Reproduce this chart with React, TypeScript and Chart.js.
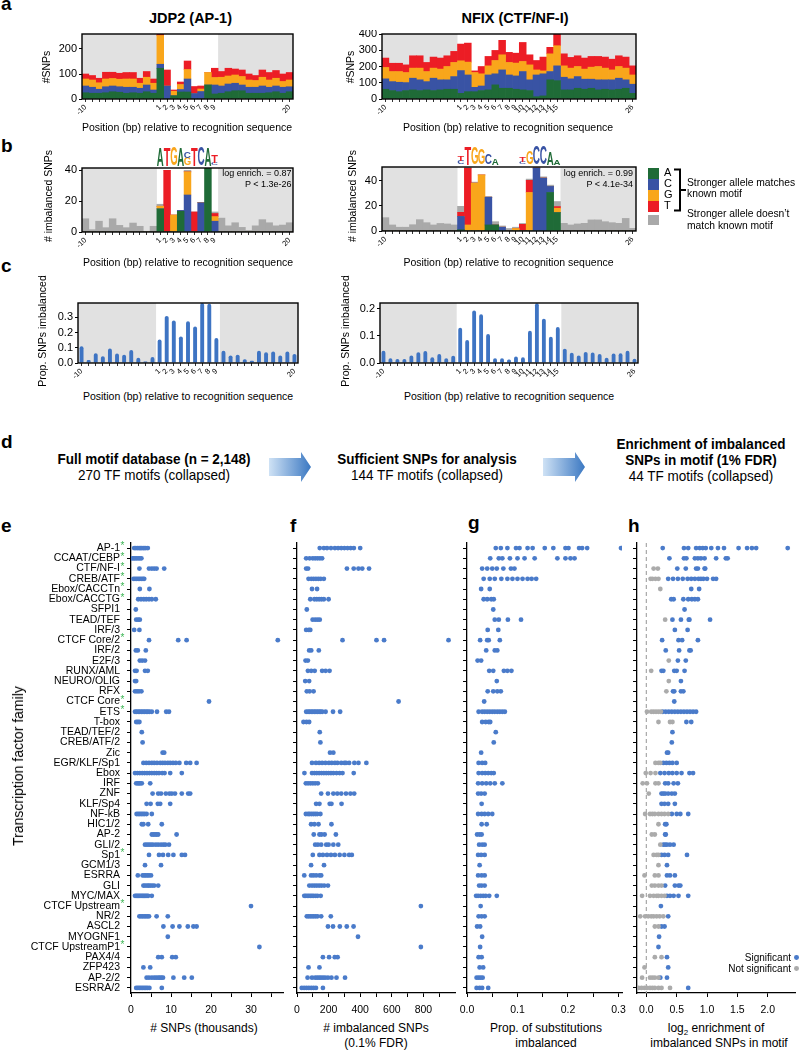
import React, { useEffect, useRef } from 'react';
import { Chart, registerables } from 'chart.js';

Chart.register(...registerables);

const FONT = "'Liberation Sans', Arial, Helvetica, sans-serif";
Chart.defaults.font.family = FONT;
Chart.defaults.color = '#000';

const GREEN = '#1f6b37';
const BLUE = '#3953a4';
const ORANGE = '#f9a61b';
const RED = '#ec1d25';
const GRAYBAR = '#a9a9a9';
const SHADE = '#e1e1e1';
const DOT = '#4a7bca';
const DOTGRAY = '#ababab';
const CBAR = '#3e74c3';
const STAR = '#3cb554';

// ---------------- panels a-c: positions ----------------
const jdp2Positions = ['-10','-9','-8','-7','-6','-5','-4','-3','-2','-1','0','1','2','3','4','5','6','7','8','9','10','11','12','13','14','15','16','17','18','19','20'];
const jdp2ShownTicks = ['-10','1','2','3','4','5','6','7','8','9','20'];
const jdp2MotifPositions = ['1','2','3','4','5','6','7','8','9'];

const nfixPositions = ['-10','-9','-8','-7','-6','-5','-4','-3','-2','-1','0','1','2','3','4','5','6','7','8','9','10','11','12','13','14','15','16','17','18','19','20','21','22','23','24','25','26'];
const nfixShownTicks = ['-10','1','2','3','4','5','6','7','8','9','10','11','12','13','14','15','26'];
const nfixMotifPositions = ['1','2','3','4','5','6','7','8','9','10','11','12','13','14','15'];

// panel a: #SNPs by nucleotide
const jdp2SnpsA = [25,23,23,25,29,27,23,25,23,29,23,123,0,13,28,28,0,0,56,20,23,29,33,33,23,23,23,25,29,23,29];
const jdp2SnpsC = [27,24,16,24,23,22,24,22,20,27,13,16,52,0,10,52,22,30,0,36,29,31,30,23,24,24,29,22,23,24,20];
const jdp2SnpsG = [28,29,26,31,30,30,33,33,20,31,27,115,0,18,20,38,0,10,50,30,35,32,33,34,29,27,35,29,31,23,27];
const jdp2SnpsT = [20,18,18,27,25,24,26,26,20,23,17,5,64,5,10,34,28,12,0,37,23,31,24,26,24,20,29,30,31,30,30];

const nfixSnpsA = [60,52,45,52,56,52,56,52,56,60,60,35,45,45,52,56,87,66,66,60,56,52,14,19,118,113,56,56,66,60,66,56,60,56,60,66,35];
const nfixSnpsC = [64,55,58,49,72,66,51,76,62,58,78,140,103,27,28,92,68,113,82,82,113,66,134,136,51,91,78,68,72,62,56,62,58,62,68,52,56];
const nfixSnpsG = [70,62,66,62,62,72,62,62,66,82,87,60,79,91,75,56,82,93,77,79,62,92,31,18,109,124,70,66,62,62,74,82,72,61,72,72,57];
const nfixSnpsT = [58,51,51,47,76,76,56,68,68,66,68,103,117,10,45,58,62,89,62,61,117,62,58,85,40,72,74,66,66,68,66,62,68,66,66,68,56];

// panel b: # imbalanced SNPs (stronger allele)
const jdp2ImbA = [0,0,0,0,0,0,0,0,0,0,0,15,0,0,13.4,0,0,0,42,0,0,0,0,0,0,0,0,0,0,0,0];
const jdp2ImbC = [0,0,0,0,0,0,0,0,0,0,0,0,0,0,0.6,24,0,19,0,7,0,0,0,0,0,0,0,0,0,0,0];
const jdp2ImbG = [0,0,0,0,0,0,0,0,0,0,0,1.7,0,11,0,15,0,0,0,3,0,0,0,0,0,0,0,0,0,0,0];
const jdp2ImbT = [0,0,0,0,0,0,0,0,0,0,0,0,40,0,0,0,13,0,0,2,0,0,0,0,0,0,0,0,0,0,0];
const jdp2ImbOther = [8.6,1.5,7,2.8,8.6,4.3,2.8,5.8,3.7,0,3.7,1.3,0,0,0,1,0,0,0,1,9,4,6,3,1,4,8,6,4,4.5,6];

const nfixImbA = [0,0,0,0,0,0,0,0,0,0,0,1,0,0,0,4.8,4.8,0,0,0,0,0,0,0,30.6,14.6,0,0,0,0,0,0,0,0,0,0,0];
const nfixImbC = [0,0,0,0,0,0,0,0,0,0,0,10.6,0,0,0,22,0,3,0,0,0,0,50,42,4.8,0,0,0,0,0,0,0,0,0,0,0,0];
const nfixImbG = [0,0,0,0,0,0,0,0,0,0,0,0,4.8,38,44.5,0,0,0,0,2,0,30.6,0,0,0,3.5,0,0,0,0,0,0,0,0,0,0,0];
const nfixImbT = [0,0,0,0,0,0,0,0,0,0,0,3.2,45,0,0,0,0,0,0,0,5.3,9.6,0,0,0,1.3,0,0,0,0,0,0,0,0,0,0,0];
const nfixImbOther = [10.6,4.8,3,3,5,9,6.6,4.8,6,5.6,4.8,4.8,0.5,0.8,0,0.6,2.6,1,2,1,0.7,1,0,1,1,4,6.1,4.8,5.6,6.1,8.8,8.8,7.4,6.6,6.1,10,2.1];

// panel c: proportion imbalanced
const jdp2Prop = [0.11,0.02,0.065,0.045,0.095,0.062,0.055,0.085,0.035,0.01,0.04,0.155,0.31,0.28,0.175,0.275,0.24,0.395,0.39,0.165,0.08,0.05,0.055,0.025,0.015,0.08,0.07,0.075,0.05,0.075,0.06];
const nfixProp = [0.045,0.018,0.015,0.015,0.028,0.04,0.044,0.021,0.033,0.018,0.027,0.13,0.085,0.194,0.18,0.107,0.018,0.018,0.013,0.024,0.021,0.119,0.221,0.164,0.097,0.133,0.053,0.038,0.028,0.041,0.039,0.033,0.019,0.035,0.036,0.045,0.016];

// motif logos (bottom -> top, height as fraction of full letter)
const jdp2Logo: [string, number][][] = [
  [['A', 1]], [['T', 1]], [['G', 1]], [['A', 1]], [['G', 0.42], ['C', 0.38]],
  [['T', 1]], [['C', 1]], [['A', 1]], [['C', 0.12], ['T', 0.4]],
];
const nfixLogo: [string, number][][] = [
  [['C', 0.18], ['T', 0.25]], [['T', 1]], [['G', 0.95]], [['G', 0.88]], [['C', 0.6]],
  [['A', 0.32]], [], [], [], [['C', 0.12], ['T', 0.3]],
  [['G', 0.75]], [['C', 1]], [['C', 1]], [['A', 0.72]], [['A', 0.3]],
];

// ---------------- panels e-h ----------------
const families = ['AP-1','CCAAT/CEBP','CTF/NF-I','CREB/ATF','Ebox/CACCTn','Ebox/CACCTG','SFPI1','TEAD/TEF','IRF/3','CTCF Core/2','IRF/2','E2F/3','RUNX/AML','NEURO/OLIG','RFX','CTCF Core','ETS','T-box','TEAD/TEF/2','CREB/ATF/2','Zic','EGR/KLF/Sp1','Ebox','IRF','ZNF','KLF/Sp4','NF-kB','HIC1/2','AP-2','GLI/2','Sp1','GCM1/3','ESRRA','GLI','MYC/MAX','CTCF Upstream','NR/2','ASCL2','MYOGNF1','CTCF UpstreamP1','PAX4/4','ZFP423','AP-2/2','ESRRA/2'];
const starredFamilies = ['AP-1','CCAAT/CEBP','CTF/NF-I','CREB/ATF','Ebox/CACCTn','Ebox/CACCTG','CTCF Core/2','CTCF Core','ETS','Sp1','CTCF Upstream','CTCF UpstreamP1'];

const snpsThousands: number[][] = [
  [0.8,1.2,1.6,2.0,2.3,2.6,3.0,3.3,3.7,4.2],
  [0.3,0.7,1.0,1.4,1.8,2.2,2.6],
  [2.1,4.5,5.2,5.8,6.4,8.3],
  [0.6,1.0,1.4,1.8,2.2,2.6,3.0,3.3],
  [2.2,4.6],
  [1.8,2.5,3.2,3.8,4.5,5.2,6.2],
  [1.2],
  [1.3,1.8,2.2],
  [0.8,2.1],
  [4.5,11.8,13.9,36.7],
  [1.2,1.7,3.7],
  [2.2,2.8,3.5],
  [1.0,1.4,3.5,4.2],
  [1.0,1.3],
  [1.0,1.5,2.0,2.6],
  [19.5],
  [1,1.4,1.8,2.2,2.6,3,3.4,3.8,4.2,4.6,5.2,6.5,8.8,9.5],
  [1.3,1.7,2.1],
  [2.7],
  [2.9],
  [7.9,8.3],
  [3.1,3.8,4.5,5.2,5.8,6.5,7.3,7.9,8.5,9.2,9.8,10.5,11.2,12.1,13.8,14.8,16.4],
  [1,1.6,2.2,2.8,3.4,4,4.6,5.2,5.8,6.4,7,7.8,8.4,9.8,12.7],
  [1.3,1.7,2.0,2.3,2.7,4.8],
  [5.4,6.8,7.5,8.7,9.6,10.2,11,12.7,14.3,14.8],
  [3.9,4.9,6.7,7.3,9.8],
  [1.4,1.8,2.2,2.6,3.0,3.4,3.9,5.2],
  [2.7,3.1,4.3,7.7],
  [5.2,5.6,6.0,6.4,6.8,11.4],
  [3.5,4,4.5,5,5.5,6.2,6.8,7.5,8.1,8.6,9.5],
  [4.5,7,8,9.3,10.6,12.7,13.5],
  [3.5,7.5],
  [1.7,2.9,3.3,3.7,4.1,4.5,5],
  [3.1,3.5,4,4.4,4.8,5.3,5.8,6.8],
  [1,1.3,1.6,1.9,2.2,2.5,2.8,3.1,3.4,3.7,4,4.3,5.2],
  [30],
  [2.1,2.5,2.9,3.3,3.7,4.1,4.5,6.4,9.2],
  [8.1,10.4,12.1,14.2,15.6,16.4],
  [9.2],
  [32.1],
  [6.8,7.7,10.3,11.2],
  [3.1,4.8],
  [3.9,4.5,5.2,5.8,6.3,6.8,7.2,7.6,8,10.6,13.3,15.2],
  [1.3,1.7,2.1,2.5,2.9,3.3,3.7,4.1,4.6,7.7],
];

const imbalancedCounts: number[][] = [
  [144,170,190,215,240,260,280,300,320,340,360,400],
  [58,80,100,115,130,145,159],
  [58,70,316,359,389,413,456],
  [73,90,105,120,135,150,170],
  [95,127],
  [84,110,125,140,155,170,200],
  [62],
  [99,115,130,144],
  [58,75,84],
  [288,503,551,959],
  [77,90,138],
  [54,69],
  [69,90,112,159,181,206],
  [52,77],
  [62,80,105],
  [643],
  [58,70,80,90,100,110,120,130,140,150,160,181,228,273],
  [41,60,77],
  [144],
  [148],
  [209,230],
  [95,120,140,159,180,202,220,240,256,280,300,310,330,363,389,439],
  [47,95,110,125,140,155,170,185,200,215,230,250,270,288,359],
  [56,70,85,100,115,132],
  [153,196,230,255,280,310,338,362],
  [121,142,207,218,282],
  [56,70,80,92,104,116,128,148],
  [89,110,136,218],
  [106,142,155,175,246],
  [115,132,153,185,200,230,261],
  [100,142,164,190,215,240,270,300,330,347],
  [89,171],
  [46,89,104,121,142,153],
  [78,95,110,125,140,155,172,196],
  [46,55,65,75,85,95,105,118,130,150],
  [784],
  [62,73,84,95,106,118,130,153,214],
  [196,228,271,315,358],
  [386],
  [784],
  [164,203,239,257],
  [73,142],
  [67,95,115,128,140,152,165,178,196,218,250,304],
  [30,45,60,75,90,105,120,164],
];

const propImbalanced: number[][] = [
  [0.057,0.067,0.08,0.097,0.104,0.12,0.13,0.154,0.171,0.195,0.201,0.222,0.228,0.238,0.305],
  [0.046,0.063,0.07,0.085,0.1,0.114,0.134,0.179,0.195,0.205,0.213],
  [0.03,0.04,0.05,0.059,0.072,0.087,0.094],
  [0.033,0.045,0.055,0.068,0.08,0.09,0.1,0.11,0.12,0.128,0.137],
  [0.028,0.045],
  [0.033,0.04,0.048,0.053],
  [0.052],
  [0.055,0.063,0.081,0.107],
  [0.041,0.062],
  [0.026,0.04,0.043,0.065],
  [0.038,0.055,0.06],
  [0.021,0.028],
  [0.044,0.052,0.073,0.08,0.088],
  [0.059],
  [0.041,0.052,0.06,0.067],
  [0.034],
  [0.023,0.03,0.035,0.04,0.045,0.05,0.055,0.06,0.065,0.07,0.075],
  [0.03,0.037,0.043,0.046],
  [0.057],
  [0.053],
  [0.028],
  [0.023,0.03,0.036],
  [0.023,0.03,0.036,0.042,0.048,0.053],
  [0.022,0.03,0.038,0.046,0.055,0.07],
  [0.022,0.028,0.035],
  [0.029],
  [0.022,0.029,0.035,0.042,0.05],
  [0.029,0.039],
  [0.02,0.025,0.029],
  [0.024,0.03,0.035],
  [0.022,0.028,0.035],
  [0.025],
  [0.022,0.029,0.035],
  [0.024,0.029,0.035],
  [0.018,0.022,0.027,0.032,0.037,0.044,0.059],
  [0.027],
  [0.023,0.029,0.035],
  [0.02,0.026],
  [0.03],
  [0.026],
  [0.023,0.029],
  [0.025,0.032],
  [0.019,0.023,0.027,0.031],
  [0.019,0.025,0.03,0.042],
];

const log2EnrichSignificant: number[][] = [
  [0.27,0.62,0.69,0.82,0.88,0.93,0.98,1.07,1.18,1.28,1.52,1.66,1.74,1.81,2.33],
  [0.38,0.62,0.66,0.8,0.85,0.9,0.96,1.15,1.31,1.34],
  [0.51,0.65,0.82,0.85,0.96,0.97],
  [0.36,0.44,0.52,0.6,0.68,0.74,0.8,0.86,0.9,0.94,1.0,1.1,1.15],
  [0.74,0.87],
  [0.41,0.45,0.61,0.69,0.75,0.8,0.85],
  [0.63],
  [0.43,0.57,0.7,0.71,1.05],
  [0.47,0.68],
  [0.26,0.53,0.59,0.85],
  [0.32,0.54,0.71,0.73],
  [0.52,0.65],
  [0.25,0.28,0.46,0.5,0.63],
  [0.57],
  [0.44,0.46,0.57,0.61],
  [0.46],
  [0.27,0.32,0.37,0.42,0.47,0.52,0.57,0.62,0.67,0.72,0.77,0.82],
  [0.66,0.74],
  [0.43],
  [0.42],
  [0.34,0.36],
  [0.28,0.33,0.38,0.43,0.5],
  [0.23,0.3,0.37,0.43,0.5,0.58,0.71,0.77],
  [0.31,0.36,0.45,0.52],
  [0.25,0.28,0.31,0.36,0.42,0.47],
  [0.25,0.3,0.36,0.47],
  [0.42,0.5,0.56,0.69],
  [0.31,0.33],
  [0.31,0.32],
  [0.28,0.31,0.34,0.39,0.45],
  [0.25,0.3,0.36,0.67],
  [0.34],
  [0.34,0.39,0.47],
  [0.31,0.47,0.53,0.56],
  [0.34,0.39,0.45,0.53,0.69],
  [0.24],
  [0.36],
  [0.25,0.3],
  [0.21],
  [0.2],
  [0.34],
  [0.36],
  [0.23,0.34],
  [0.69],
];

const log2EnrichNotSignificant: number[][] = [
  [], [], [0.12,0.19], [0.07,0.1,0.15,0.2], [0.23], [], [], [0.31], [], [],
  [], [0.37], [0.08], [0.37], [0.33], [], [0.01,0.08,0.12,0.16,0.2,0.24], [0.2,0.39,0.43], [], [],
  [], [0.15,0.2,0.23], [-0.01,0.07,0.15], [-0.06,0.01,0.15,0.2], [0.04], [], [-0.02,0.06,0.1,0.14,0.2,0.25,0.3,0.36], [0.2], [0.09,0.14], [0.23],
  [0.12,0.17,0.2], [0.2], [-0.03,0.14,0.2], [0.09,0.14,0.2,0.25], [-0.07,0.06,0.12,0.17,0.2,0.25,0.3], [], [-0.1,-0.02,0.03,0.08,0.12,0.17,0.22,0.28], [0.14,0.2], [], [],
  [0.14,0.25], [-0.03], [-0.07,0.06,0.1,0.14,0.2], [-0.13,-0.08,-0.03,0.01,0.06,0.1,0.14,0.2,0.25,0.39],
];

// ---------------- helpers ----------------
type Box = { L: number; T: number; R: number; B: number; yw: number; xh: number; pt: number; pr: number };

const fixY = (w: number) => (s: any) => { s.width = w; s.paddingTop = 0; s.paddingBottom = 0; s.paddingLeft = 0; s.paddingRight = 0; };
const fixX = (h: number) => (s: any) => { s.height = h; s.paddingLeft = 0; s.paddingRight = 0; s.paddingTop = 0; s.paddingBottom = 0; };

function ChartBox({ box, make }: { box: Box; make: () => any }) {
  const ref = useRef<HTMLCanvasElement | null>(null);
  const left = box.L - box.yw;
  const top = box.T - box.pt;
  const width = box.R - box.L + box.yw + box.pr;
  const height = box.B - box.T + box.pt + box.xh;
  useEffect(() => {
    const cfg = make();
    cfg.options.layout = { padding: { left: 0, top: box.pt, right: box.pr, bottom: 0 } };
    const chart = new Chart(ref.current as HTMLCanvasElement, cfg);
    return () => chart.destroy();
  }, []);
  return <canvas ref={ref} width={width} height={height} style={{ position: 'absolute', left, top, width, height }} />;
}

const LETTER_COLOR: Record<string, string> = { A: GREEN, C: BLUE, G: ORANGE, T: RED };

function drawLetter(ctx: CanvasRenderingContext2D, ch: string, x0: number, w: number, yBottom: number, h: number) {
  if (h <= 0.5) return;
  ctx.save();
  ctx.font = `bold 100px ${FONT}`;
  const m = ctx.measureText(ch);
  const gw = m.actualBoundingBoxLeft + m.actualBoundingBoxRight;
  const gh = m.actualBoundingBoxAscent + m.actualBoundingBoxDescent;
  if (gw > 0 && gh > 0) {
    ctx.translate(x0, yBottom);
    ctx.scale(w / gw, h / gh);
    ctx.fillStyle = LETTER_COLOR[ch];
    ctx.textBaseline = 'alphabetic';
    ctx.textAlign = 'left';
    ctx.fillText(ch, m.actualBoundingBoxLeft, -m.actualBoundingBoxDescent);
  }
  ctx.restore();
}

function framePlugin(motif0: number, motif1: number) {
  return {
    id: 'frame',
    beforeDraw(chart: any) {
      const { ctx, chartArea: a, scales } = chart;
      const x = scales.x;
      const half = (x.getPixelForValue(1) - x.getPixelForValue(0)) / 2;
      const mL = x.getPixelForValue(motif0) - half;
      const mR = x.getPixelForValue(motif1) + half;
      ctx.save();
      ctx.fillStyle = SHADE;
      ctx.fillRect(a.left, a.top, mL - a.left, a.bottom - a.top);
      ctx.fillRect(mR, a.top, a.right - mR, a.bottom - a.top);
      ctx.restore();
    },
    afterDatasetsDraw(chart: any) {
      const { ctx, chartArea: a } = chart;
      ctx.save();
      ctx.strokeStyle = '#000';
      ctx.lineWidth = 1.4;
      ctx.strokeRect(a.left, a.top, a.right - a.left, a.bottom - a.top);
      ctx.restore();
    },
  };
}

function logoPlugin(logo: [string, number][][], firstIndex: number) {
  return {
    id: 'logo',
    afterDraw(chart: any) {
      const { ctx, chartArea: a, scales } = chart;
      const x = scales.x;
      const step = x.getPixelForValue(1) - x.getPixelForValue(0);
      const full = 18;
      logo.forEach((stack, k) => {
        const cx = x.getPixelForValue(firstIndex + k);
        let yb = a.top - 2.5;
        stack.forEach(([ch, h]) => {
          const hh = h * full;
          drawLetter(ctx, ch, cx - step * 0.48, step * 0.96, yb, hh);
          yb -= hh;
        });
      });
    },
  };
}

type BarSpec = {
  labels: string[];
  shown: string[];
  motif: string[];
  series: { data: number[]; color: string }[];
  yMax: number;
  yTicks: number[];
  yDigits: number;
  box: Box;
  barPct: number;
  radius?: number;
  logo?: [string, number][][];
};

function barConfig(spec: BarSpec) {
  const m0 = spec.labels.indexOf(spec.motif[0]);
  const m1 = spec.labels.indexOf(spec.motif[spec.motif.length - 1]);
  const plugins: any[] = [framePlugin(m0, m1)];
  if (spec.logo) plugins.push(logoPlugin(spec.logo, m0));
  return {
    type: 'bar',
    data: {
      labels: spec.labels,
      datasets: spec.series.map((s) => ({
        data: s.data,
        backgroundColor: s.color,
        borderWidth: 0,
        barPercentage: spec.barPct,
        categoryPercentage: 1,
        borderRadius: spec.radius || 0,
        borderSkipped: 'start',
        stack: 'one',
      })),
    },
    options: {
      animation: false,
      responsive: false,
      devicePixelRatio: 1,
      events: [],
      plugins: { legend: { display: false }, tooltip: { enabled: false } },
      scales: {
        x: {
          stacked: true,
          grid: { offset: false, drawOnChartArea: false, drawTicks: true, tickLength: 3, color: '#000', lineWidth: 0.8 },
          border: { display: false },
          ticks: {
            autoSkip: false,
            maxRotation: 45,
            minRotation: 45,
            padding: 1,
            font: { size: 7.5 },
            callback: (_v: any, i: number) => (spec.shown.includes(spec.labels[i]) ? spec.labels[i] : ''),
          },
          afterFit: fixX(spec.box.xh),
        },
        y: {
          stacked: true,
          min: 0,
          max: spec.yMax,
          afterBuildTicks: (s: any) => { s.ticks = spec.yTicks.map((v) => ({ value: v })); },
          grid: { drawOnChartArea: false, drawTicks: true, tickLength: 3, color: '#000', lineWidth: 1 },
          border: { display: false },
          ticks: { padding: 2, font: { size: 11 }, callback: (v: any) => Number(v).toFixed(spec.yDigits) },
          afterFit: fixY(spec.box.yw),
        },
      },
    },
    plugins,
  };
}

type StripSpec = {
  sig: number[][];
  non?: number[][];
  xMin: number;
  xMax: number;
  xTicks: number[];
  xLabel: (v: number, i: number) => string;
  showY: boolean;
  box: Box;
  dashedZero?: boolean;
};

function toPoints(rows: number[][]) {
  const pts: { x: number; y: number }[] = [];
  rows.forEach((vals, i) => vals.forEach((v) => pts.push({ x: v, y: i })));
  return pts;
}

function stripConfig(spec: StripSpec) {
  const datasets: any[] = [];
  if (spec.non) datasets.push({ data: toPoints(spec.non), pointRadius: 2.4, pointBorderWidth: 0, pointBackgroundColor: DOTGRAY, backgroundColor: DOTGRAY });
  datasets.push({ data: toPoints(spec.sig), pointRadius: 2.4, pointBorderWidth: 0, pointBackgroundColor: DOT, backgroundColor: DOT });
  const plugins: any[] = [];
  if (spec.dashedZero) {
    plugins.push({
      id: 'zero',
      beforeDatasetsDraw(chart: any) {
        const { ctx, chartArea: a, scales } = chart;
        const x = scales.x.getPixelForValue(0);
        ctx.save();
        ctx.strokeStyle = '#a8a8a8';
        ctx.lineWidth = 1.2;
        ctx.setLineDash([4, 3]);
        ctx.beginPath();
        ctx.moveTo(x, a.top);
        ctx.lineTo(x, a.bottom);
        ctx.stroke();
        ctx.restore();
      },
    });
  }
  if (spec.showY) {
    plugins.push({
      id: 'stars',
      afterDraw(chart: any) {
        const { ctx, chartArea: a, scales } = chart;
        ctx.save();
        ctx.fillStyle = STAR;
        ctx.font = `10px ${FONT}`;
        ctx.textAlign = 'left';
        ctx.textBaseline = 'middle';
        families.forEach((f, i) => {
          if (starredFamilies.includes(f)) ctx.fillText('*', a.left - 10.5, scales.y.getPixelForValue(i) - 1.5);
        });
        ctx.restore();
      },
    });
  }
  return {
    type: 'scatter',
    data: { datasets },
    options: {
      animation: false,
      responsive: false,
      devicePixelRatio: 1,
      events: [],
      plugins: { legend: { display: false }, tooltip: { enabled: false } },
      scales: {
        x: {
          type: 'linear',
          min: spec.xMin,
          max: spec.xMax,
          afterBuildTicks: (s: any) => { s.ticks = spec.xTicks.map((v) => ({ value: v })); },
          grid: { drawOnChartArea: false, drawTicks: true, tickLength: 4, color: '#000', lineWidth: 1 },
          border: { display: true, color: '#000', width: 1.3 },
          ticks: { autoSkip: false, maxRotation: 0, padding: 7, font: { size: 10.5 }, callback: (v: any, i: number) => spec.xLabel(Number(v), i) },
          afterFit: fixX(spec.box.xh),
        },
        y: {
          type: 'linear',
          reverse: true,
          min: -0.5,
          max: families.length - 0.5,
          afterBuildTicks: (s: any) => { s.ticks = families.map((_f, i) => ({ value: i })); },
          grid: { drawOnChartArea: false, drawTicks: true, tickLength: 4, color: '#000', lineWidth: 1 },
          border: { display: true, color: '#000', width: 1.3 },
          ticks: { autoSkip: false, padding: 7, font: { size: 10.5 }, callback: (v: any) => (spec.showY ? families[Number(v)] : '') },
          afterFit: fixY(spec.box.yw),
        },
      },
    },
    plugins,
  };
}

function Txt({ x, y, s = 11, b = false, a = 'left', c = '#000', sx = 1, children }: any) {
  const tx = a === 'center' ? '-50%' : a === 'right' ? '-100%' : '0';
  return (
    <div
      style={{
        position: 'absolute',
        left: x,
        top: y - 0.8465 * s,
        fontSize: s,
        lineHeight: `${s}px`,
        fontWeight: b ? 'bold' : 'normal',
        color: c,
        whiteSpace: 'nowrap',
        transform: `translateX(${tx})${sx !== 1 ? ` scaleX(${sx})` : ''}`,
        transformOrigin: a === 'center' ? 'center' : a === 'right' ? 'right' : 'left',
      }}
    >
      {children}
    </div>
  );
}

function VTxt({ x, y, s = 10.5, children }: any) {
  return (
    <div style={{ position: 'absolute', left: x, top: y, fontSize: s, lineHeight: `${s}px`, whiteSpace: 'nowrap', transform: 'translate(-50%,-50%) rotate(-90deg)' }}>
      {children}
    </div>
  );
}

function Arrow({ x0, x1, cy }: { x0: number; x1: number; cy: number }) {
  const xb = x1 - 10;
  const bh = 9;
  const hh = 15;
  const id = `g${x0}`;
  return (
    <svg style={{ position: 'absolute', left: x0, top: cy - hh }} width={x1 - x0} height={hh * 2}>
      <defs>
        <linearGradient id={id} x1="0" y1="0" x2="1" y2="0">
          <stop offset="0" stopColor="#cfe2f5" />
          <stop offset="1" stopColor="#3b78c2" />
        </linearGradient>
      </defs>
      <path d={`M0 ${hh - bh} L${xb - x0} ${hh - bh} L${xb - x0} 0 L${x1 - x0} ${hh} L${xb - x0} ${hh * 2} L${xb - x0} ${hh + bh} L0 ${hh + bh} Z`} fill={`url(#${id})`} />
    </svg>
  );
}

// ---------------- boxes ----------------
const boxAJ: Box = { L: 82, T: 34, R: 293, B: 99, yw: 40, xh: 26, pt: 4, pr: 4 };
const boxAN: Box = { L: 382, T: 34, R: 636, B: 99, yw: 40, xh: 26, pt: 4, pr: 4 };
const boxBJ: Box = { L: 82, T: 168, R: 293, B: 232, yw: 40, xh: 26, pt: 24, pr: 4 };
const boxBN: Box = { L: 382, T: 167, R: 636, B: 231, yw: 40, xh: 26, pt: 24, pr: 4 };
const boxCJ: Box = { L: 78, T: 303, R: 298, B: 363, yw: 40, xh: 26, pt: 4, pr: 4 };
const boxCN: Box = { L: 380, T: 303, R: 638, B: 363, yw: 40, xh: 26, pt: 4, pr: 4 };
const boxE: Box = { L: 131, T: 543, R: 283, B: 993, yw: 131, xh: 24, pt: 4, pr: 4 };
const boxF: Box = { L: 297, T: 543, R: 455, B: 993, yw: 8, xh: 24, pt: 4, pr: 4 };
const boxG: Box = { L: 467, T: 543, R: 622, B: 993, yw: 8, xh: 24, pt: 4, pr: 4 };
const boxH: Box = { L: 637, T: 543, R: 799, B: 993, yw: 8, xh: 24, pt: 4, pr: 0 };

const nucSeries = (a: number[], c: number[], g: number[], t: number[]) => [
  { data: a, color: GREEN },
  { data: c, color: BLUE },
  { data: g, color: ORANGE },
  { data: t, color: RED },
];

export default function App() {
  return (
    <div style={{ position: 'absolute', left: 0, top: 0, width: 799, height: 1050, background: '#fff', fontFamily: FONT, color: '#000', overflow: 'hidden' }}>
      {/* panel a */}
      <ChartBox box={boxAJ} make={() => barConfig({ labels: jdp2Positions, shown: jdp2ShownTicks, motif: jdp2MotifPositions, series: nucSeries(jdp2SnpsA, jdp2SnpsC, jdp2SnpsG, jdp2SnpsT), yMax: 260, yTicks: [0, 50, 100, 150, 200, 250], yDigits: 0, box: boxAJ, barPct: 1 })} />
      <ChartBox box={boxAN} make={() => barConfig({ labels: nfixPositions, shown: nfixShownTicks, motif: nfixMotifPositions, series: nucSeries(nfixSnpsA, nfixSnpsC, nfixSnpsG, nfixSnpsT), yMax: 400, yTicks: [0, 100, 200, 300, 400], yDigits: 0, box: boxAN, barPct: 1 })} />
      {/* panel b */}
      <ChartBox box={boxBJ} make={() => barConfig({ labels: jdp2Positions, shown: jdp2ShownTicks, motif: jdp2MotifPositions, series: [...nucSeries(jdp2ImbA, jdp2ImbC, jdp2ImbG, jdp2ImbT), { data: jdp2ImbOther, color: GRAYBAR }], yMax: 41.5, yTicks: [0, 10, 20, 30, 40], yDigits: 0, box: boxBJ, barPct: 1, logo: jdp2Logo })} />
      <ChartBox box={boxBN} make={() => barConfig({ labels: nfixPositions, shown: nfixShownTicks, motif: nfixMotifPositions, series: [...nucSeries(nfixImbA, nfixImbC, nfixImbG, nfixImbT), { data: nfixImbOther, color: GRAYBAR }], yMax: 50.8, yTicks: [0, 10, 20, 30, 40, 50], yDigits: 0, box: boxBN, barPct: 1, logo: nfixLogo })} />
      {/* panel c */}
      <ChartBox box={boxCJ} make={() => barConfig({ labels: jdp2Positions, shown: jdp2ShownTicks, motif: jdp2MotifPositions, series: [{ data: jdp2Prop, color: CBAR }], yMax: 0.395, yTicks: [0, 0.1, 0.2, 0.3], yDigits: 1, box: boxCJ, barPct: 0.55, radius: 2 })} />
      <ChartBox box={boxCN} make={() => barConfig({ labels: nfixPositions, shown: nfixShownTicks, motif: nfixMotifPositions, series: [{ data: nfixProp, color: CBAR }], yMax: 0.222, yTicks: [0, 0.1, 0.2], yDigits: 1, box: boxCN, barPct: 0.55, radius: 2 })} />

      {/* panels e-h */}
      <ChartBox box={boxE} make={() => stripConfig({ sig: snpsThousands, xMin: 0, xMax: 38, xTicks: [0, 5, 10, 15, 20, 25, 30, 35], xLabel: (v) => (v % 10 === 0 ? String(v) : ''), showY: true, box: boxE })} />
      <ChartBox box={boxF} make={() => stripConfig({ sig: imbalancedCounts, xMin: 0, xMax: 1000, xTicks: [0, 100, 200, 300, 400, 500, 600, 700, 800, 900], xLabel: (v) => (v % 200 === 0 ? String(v) : ''), showY: false, box: boxF })} />
      <ChartBox box={boxG} make={() => stripConfig({ sig: propImbalanced, xMin: 0, xMax: 0.307, xTicks: [0, 0.05, 0.1, 0.15, 0.2, 0.25, 0.3], xLabel: (v, i) => (i % 2 === 0 ? v.toFixed(1) : ''), showY: false, box: boxG })} />
      <ChartBox box={boxH} make={() => stripConfig({ sig: log2EnrichSignificant, non: log2EnrichNotSignificant, xMin: -0.154, xMax: 2.45, xTicks: [0, 0.5, 1, 1.5, 2], xLabel: (v) => v.toFixed(1), showY: false, box: boxH, dashedZero: true })} />

      {/* panel letters */}
      <Txt x={1} y={10.5} s={19} b>a</Txt>
      <Txt x={1} y={152} s={19} b>b</Txt>
      <Txt x={1} y={272} s={19} b>c</Txt>
      <Txt x={1} y={448} s={19} b>d</Txt>
      <Txt x={1} y={532} s={19} b>e</Txt>
      <Txt x={290} y={532} s={19} b>f</Txt>
      <Txt x={468} y={529} s={19} b>g</Txt>
      <Txt x={628} y={532} s={19} b>h</Txt>

      {/* titles */}
      <Txt x={190.5} y={23} s={14.5} b a="center">JDP2 (AP-1)</Txt>
      <Txt x={515} y={23} s={14.5} b a="center">NFIX (CTF/NF-I)</Txt>

      {/* axis titles a-c */}
      <VTxt x={46} y={66.5}>#SNPs</VTxt>
      <VTxt x={350} y={66.5}>#SNPs</VTxt>
      <VTxt x={48} y={196}># imbalanced SNPs</VTxt>
      <VTxt x={351.5} y={196}># imbalanced SNPs</VTxt>
      <VTxt x={41.5} y={331}>Prop. SNPs imbalanced</VTxt>
      <VTxt x={345} y={331}>Prop. SNPs imbalanced</VTxt>
      <Txt x={187} y={131} s={10.5} a="center">Position (bp) relative to recognition sequence</Txt>
      <Txt x={508} y={131} s={10.5} a="center">Position (bp) relative to recognition sequence</Txt>
      <Txt x={188} y={265.5} s={10.5} a="center">Position (bp) relative to recognition sequence</Txt>
      <Txt x={508.5} y={265.5} s={10.5} a="center">Position (bp) relative to recognition sequence</Txt>
      <Txt x={188} y={400} s={10.5} a="center">Position (bp) relative to recognition sequence</Txt>
      <Txt x={509} y={400} s={10.5} a="center">Position (bp) relative to recognition sequence</Txt>

      {/* panel b annotations */}
      <Txt x={291.5} y={177} s={9} a="right">log enrich. = 0.87</Txt>
      <Txt x={291.5} y={188} s={9} a="right">P &lt; 1.3e-26</Txt>
      <Txt x={633} y={177} s={9} a="right">log enrich. = 0.99</Txt>
      <Txt x={633} y={188} s={9} a="right">P &lt; 4.1e-34</Txt>

      {/* panel b legend */}
      <div style={{ position: 'absolute', left: 648, top: 168, width: 10.5, height: 10.5, background: GREEN }} />
      <div style={{ position: 'absolute', left: 648, top: 179, width: 10.5, height: 10.5, background: BLUE }} />
      <div style={{ position: 'absolute', left: 648, top: 190, width: 10.5, height: 10.5, background: ORANGE }} />
      <div style={{ position: 'absolute', left: 648, top: 201, width: 10.5, height: 10.5, background: RED }} />
      <div style={{ position: 'absolute', left: 648, top: 214.5, width: 10.5, height: 10.5, background: GRAYBAR }} />
      <Txt x={664} y={176.5} s={11}>A</Txt>
      <Txt x={664} y={187.5} s={11}>C</Txt>
      <Txt x={664} y={198} s={11}>G</Txt>
      <Txt x={664} y={209} s={11}>T</Txt>
      <svg style={{ position: 'absolute', left: 672, top: 166 }} width={16} height={48}>
        <path d="M2 3.5 L8 3.5 L8 44.5 L2 44.5 M8 24 L14 24" stroke="#000" strokeWidth={2} fill="none" />
      </svg>
      <Txt x={687} y={186.5} s={10.3}>Stronger allele matches</Txt>
      <Txt x={687} y={198} s={10.3}>known motif</Txt>
      <Txt x={687} y={218} s={10.3}>Stronger allele doesn’t</Txt>
      <Txt x={687} y={230} s={10.3}>match known motif</Txt>

      {/* panel d */}
      <Txt x={154} y={464} s={15} b a="center" sx={0.9}>Full motif database (n = 2,148)</Txt>
      <Txt x={154} y={480} s={15} a="center" sx={0.9}>270 TF motifs (collapsed)</Txt>
      <Arrow x0={269} x1={311} cy={467} />
      <Txt x={427} y={464} s={15} b a="center" sx={0.9}>Sufficient SNPs for analysis</Txt>
      <Txt x={427} y={480} s={15} a="center" sx={0.9}>144 TF motifs (collapsed)</Txt>
      <Arrow x0={543} x1={585} cy={467} />
      <Txt x={701} y={449} s={15} b a="center" sx={0.9}>Enrichment of imbalanced</Txt>
      <Txt x={701} y={465} s={15} b a="center" sx={0.9}>SNPs in motif (1% FDR)</Txt>
      <Txt x={701} y={481} s={15} a="center" sx={0.9}>44 TF motifs (collapsed)</Txt>

      {/* panels e-h titles */}
      <VTxt x={17.5} y={766} s={14}>Transcription factor family</VTxt>
      <Txt x={204} y={1032} s={12} a="center"># SNPs (thousands)</Txt>
      <Txt x={376} y={1032} s={12} a="center"># imbalanced SNPs</Txt>
      <Txt x={376} y={1047} s={12} a="center">(0.1% FDR)</Txt>
      <Txt x={546} y={1032} s={12} a="center">Prop. of substitutions</Txt>
      <Txt x={546} y={1047} s={12} a="center">imbalanced</Txt>
      <Txt x={716} y={1032} s={12} a="center">log<span style={{ fontSize: 8, position: 'relative', top: 3 }}>2</span> enrichment of</Txt>
      <Txt x={719} y={1047} s={12} a="center">imbalanced SNPs in motif</Txt>

      {/* legend h */}
      <Txt x={791} y={961} s={10} a="right">Significant</Txt>
      <Txt x={791} y={972} s={10} a="right">Not significant</Txt>
      <div style={{ position: 'absolute', left: 794, top: 955, width: 4.8, height: 4.8, borderRadius: '50%', background: DOT }} />
      <div style={{ position: 'absolute', left: 794, top: 966, width: 4.8, height: 4.8, borderRadius: '50%', background: DOTGRAY }} />
    </div>
  );
}
